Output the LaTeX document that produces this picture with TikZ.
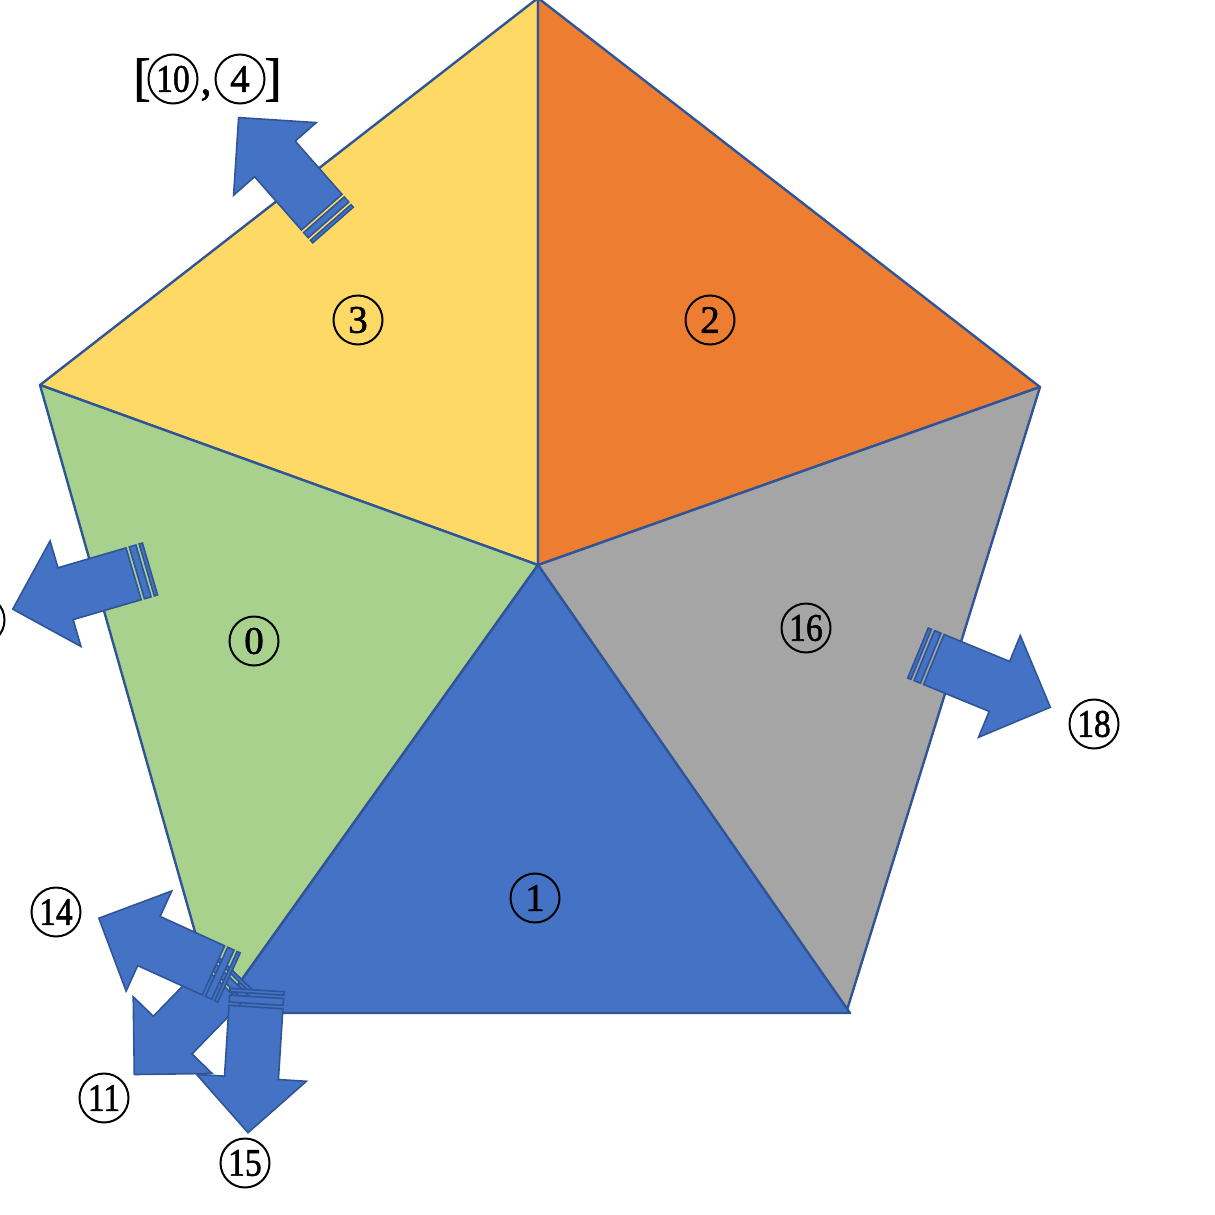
\documentclass[tikz,border=0pt]{standalone}
\usepackage{fontspec}
\usepackage{graphicx}
\setmainfont{Liberation Serif}
\newfontfamily\numfont[FakeBold=1.5]{Liberation Serif}
\definecolor{yellowf}{HTML}{FFD966}
\definecolor{orangef}{HTML}{ED7D31}
\definecolor{grayf}{HTML}{A5A5A5}
\definecolor{greenf}{HTML}{A9D18E}
\definecolor{bluef}{HTML}{4472C4}
\definecolor{edgeblue}{HTML}{2F5597}
\newcommand{\twod}[1]{\scalebox{0.86}[1]{#1}}
\newcommand{\stripedarrow}[3]{%
\begin{scope}[shift={(#1,#2)}, rotate=#3]
 \path[arrowpart] (0,-27) rectangle (3.4,27);
 \path[arrowpart] (6.8,-27) rectangle (13.7,27);
 \path[arrowpart] (17.1,-27) -- (88,-27) -- (88,-55) -- (143,0) -- (88,55) -- (88,27) -- (17.1,27) -- cycle;
\end{scope}}
\begin{document}
\begin{tikzpicture}[x=1pt,y=-1pt,
  edge/.style={draw=edgeblue, line width=2.4pt, line join=round},
  cnum/.style={circle, draw=black, line width=2pt, minimum size=49pt, inner sep=0pt, font=\numfont\fontsize{39}{39}\selectfont},
  plain/.style={inner sep=0pt},
  arrowpart/.style={fill=bluef, draw=edgeblue, line width=1.6pt, line join=miter}]
\useasboundingbox (0,0) rectangle (1215,1215);
\coordinate (C) at (538,565);
\coordinate (T) at (538,-2);
\coordinate (R) at (1040,387);
\coordinate (L) at (40,385);
\coordinate (BR) at (847,1010);
\coordinate (BL) at (218,1013);
\coordinate (BB) at (850,1013);
\path[edge, fill=yellowf] (C) -- (L) -- (T) -- cycle;
\path[edge, fill=orangef] (C) -- (T) -- (R) -- cycle;
\path[edge, fill=grayf] (C) -- (R) -- (BR) -- cycle;
\path[edge, fill=greenf] (C) -- (L) -- (BL) -- cycle;
\path[edge, fill=bluef] (C) -- (BL) -- (BB) -- cycle;
% arrows
\stripedarrow{333}{225}{131.3}
\stripedarrow{150}{569}{196.3}
\stripedarrow{918}{653}{-22.3}
\stripedarrow{234}{972}{225.8}
\stripedarrow{257}{990}{266.4}
\stripedarrow{229}{977.5}{155.5}
% labels
\node[cnum] (n3) at (358,320) {3};
\node[cnum] (n2) at (710,320) {2};
\node[cnum] (n0) at (254,641) {0};
\node[cnum] (n16) at (806,628) {\twod{16}};
\node[cnum] (n1) at (535,898) {1};
\node[cnum] (n18) at (1094,724) {\twod{18}};
\node[cnum] (n14) at (56,912) {\twod{14}};
\node[cnum] (n11) at (104,1098) {\twod{11}};
\node[cnum] (n15) at (245,1163) {\twod{15}};
\node[cnum] (n10) at (173,79) {\twod{10}};
\node[cnum] (n4) at (240,79) {4};
\node[cnum] (ncut) at (-20,620) {};
\node[plain, font=\numfont\fontsize{52}{52}\selectfont] (lb) at (142,80) {[};
\node[plain, font=\numfont\fontsize{52}{52}\selectfont] (rb) at (273,80) {]};
\node[plain, font=\numfont\fontsize{44}{44}\selectfont, anchor=base] (cm) at (206,94) {,};
\end{tikzpicture}
\end{document}
